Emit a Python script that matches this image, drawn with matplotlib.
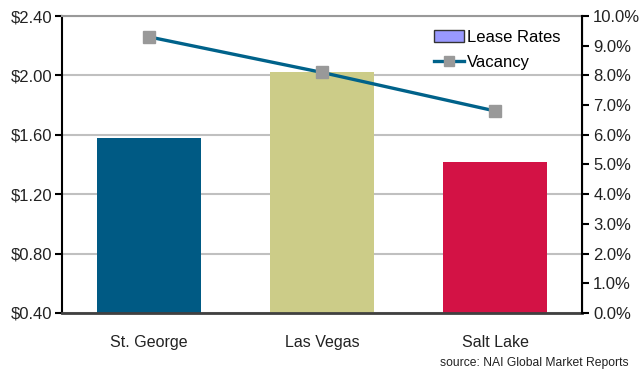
import matplotlib.pyplot as plt
from matplotlib.patches import Patch
from matplotlib.lines import Line2D
from matplotlib.ticker import FuncFormatter, MultipleLocator

plt.rcParams['font.family'] = ['Liberation Sans', 'DejaVu Sans']

markets = ['St. George', 'Las Vegas', 'Salt Lake']
lease_rates = [1.58, 2.02, 1.42]
vacancy = [9.3, 8.1, 6.8]
bar_colors = ['#005A84', '#CCCC88', '#D31245']

fig = plt.figure(figsize=(6.39, 3.73), dpi=100)
ax = fig.add_axes([0.097, 0.161, 0.814, 0.796])

x = list(range(len(markets)))
ax.bar(x, lease_rates, width=0.6, color=bar_colors, zorder=2)
ax.set_xlim(-0.5, len(markets) - 0.5)
ax.set_ylim(0.4, 2.4)
ax.yaxis.set_major_locator(MultipleLocator(0.4))
ax.yaxis.set_major_formatter(FuncFormatter(lambda v, p: '${:.2f}'.format(v)))
ax.grid(axis='y', color='#C0C0C0', linewidth=1.5, zorder=0)
ax.set_xticks(x)
ax.set_xticklabels(markets, fontsize=11.5, color='#222222')
ax.tick_params(axis='x', length=0, pad=16)
ax.tick_params(axis='y', direction='out', length=5, width=1.5, labelsize=12,
               labelcolor='#222222', pad=2)

ax.spines['left'].set_color('black')
ax.spines['left'].set_linewidth(1.5)
ax.spines['top'].set_color('#999999')
ax.spines['top'].set_linewidth(1.5)
ax.spines['bottom'].set_color('#404040')
ax.spines['bottom'].set_linewidth(2)

ax2 = ax.twinx()
ax2.plot(x, vacancy, color='#00628A', linewidth=2.4, marker='s', markersize=8,
         markerfacecolor='#999999', markeredgecolor='#999999', zorder=3)
ax2.set_ylim(0, 10)
ax2.yaxis.set_major_locator(MultipleLocator(1))
ax2.yaxis.set_major_formatter(FuncFormatter(lambda v, p: '{:.1f}%'.format(v)))
ax2.tick_params(axis='y', direction='out', length=5, width=1.5, labelsize=12,
                labelcolor='#222222', pad=3)
ax2.spines['right'].set_color('black')
ax2.spines['right'].set_linewidth(1.5)
for side in ['left', 'top', 'bottom']:
    ax2.spines[side].set_visible(False)

handles = [
    Patch(facecolor='#9999FF', edgecolor='#333333', linewidth=1),
    Line2D([0], [0], color='#00628A', linewidth=2.4, marker='s', markersize=7,
           markerfacecolor='#999999', markeredgecolor='#999999'),
]
ax2.legend(handles, ['Lease Rates', 'Vacancy'], loc='upper right',
           bbox_to_anchor=(0.987, 1.005), frameon=False, fontsize=12,
           handlelength=1.8, handletextpad=0.2, labelspacing=0.6)

fig.text(0.983, 0.027, 'source: NAI Global Market Reports', ha='right',
         va='center', fontsize=8.7, color='#222222')

fig.savefig('out.png', dpi=100)
